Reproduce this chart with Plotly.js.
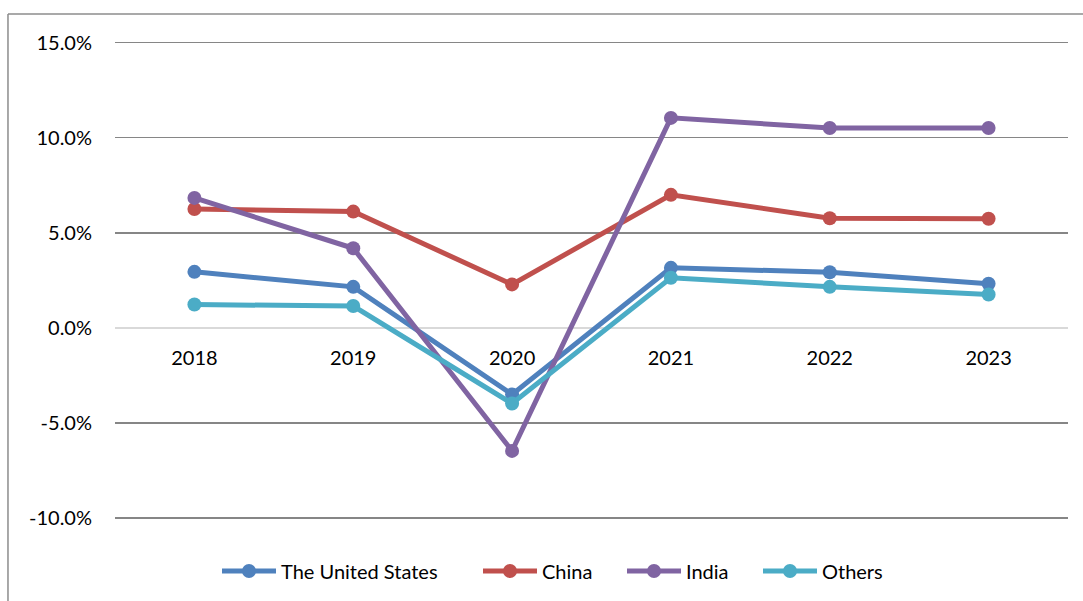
<!DOCTYPE html>
<html>
<head>
<meta charset="utf-8">
<script src="https://cdn.plot.ly/plotly-3.0.1.min.js"></script>
<style>html,body{margin:0;padding:0;background:#fff;}#chart{width:1083px;height:601px;}</style>
</head>
<body>
<div id="chart"></div>
<script>
const years = ["2018", "2019", "2020", "2021", "2022", "2023"];
const unitedStates = [2.95, 2.16, -3.5, 3.16, 2.93, 2.32];
const china = [6.26, 6.12, 2.29, 7.0, 5.77, 5.74];
const india = [6.84, 4.19, -6.47, 11.05, 10.52, 10.52];
const others = [1.23, 1.15, -3.98, 2.64, 2.16, 1.76];
const seriesNames = ["The United States", "China", "India", "Others"];
const seriesColors = ["#4F81BD", "#C0504D", "#8064A2", "#4BACC6"];
const yTickVals = [-10, -5, 0, 5, 10, 15];
const yTickText = ["-10.0%", "-5.0%", "0.0%", "5.0%", "10.0%", "15.0%"];

const legendIds = ["legend", "legend2", "legend3", "legend4"];
const legendLeftPx = [217, 478, 622, 758];

const allSeries = [unitedStates, china, india, others];
const traces = allSeries.map((vals, i) => ({
  x: years,
  y: vals,
  name: seriesNames[i],
  type: "scatter",
  mode: "lines+markers",
  line: {color: seriesColors[i], width: 5},
  marker: {color: seriesColors[i], size: 14},
  legend: legendIds[i],
  hoverinfo: "skip"
}));

const yMin = -11, yMax = 15.2;
const plotL = 115, plotW = 953;
const layout = {
  width: 1083,
  height: 601,
  margin: {l: 115, r: 15, t: 39, b: 63},
  paper_bgcolor: "#ffffff",
  plot_bgcolor: "#ffffff",
  font: {family: "Lato, 'Open Sans', sans-serif", size: 20, color: "#000"},
  showlegend: true,
  xaxis: {
    type: "category",
    range: [-0.5, 5.5],
    anchor: "free",
    position: (0 - yMin) / (yMax - yMin),
    showgrid: false,
    zeroline: false,
    showline: false,
    ticks: "",
    ticklabelstandoff: 16,
    tickfont: {size: 20}
  },
  yaxis: {
    range: [yMin, yMax],
    tickvals: yTickVals,
    ticktext: yTickText,
    showgrid: true,
    gridcolor: "#868686",
    gridwidth: 1.3,
    zeroline: true,
    zerolinecolor: "#d9d9d9",
    zerolinewidth: 2,
    showline: false,
    ticks: "",
    ticklabelstandoff: 22,
    tickfont: {size: 20}
  },
  shapes: [
    {type: "line", xref: "paper", yref: "paper", x0: -0.1123, x1: 1.02, y0: 1.0501, y1: 1.0501, line: {color: "#8c8c8c", width: 1.5}},
    {type: "line", xref: "paper", yref: "paper", x0: -0.1123, x1: -0.1123, y0: 1.0501, y1: -0.2, line: {color: "#8c8c8c", width: 1.5}}
  ]
};
legendIds.forEach((id, i) => {
  layout[id] = {
    orientation: "h",
    x: (legendLeftPx[i] - plotL) / plotW, xanchor: "left",
    y: -0.066, yanchor: "middle",
    font: {size: 20, color: "#000"},
    itemwidth: 54,
    bgcolor: "rgba(0,0,0,0)",
    itemclick: false
  };
});

Plotly.newPlot("chart", traces, layout, {displayModeBar: false, staticPlot: true});
</script>
</body>
</html>
